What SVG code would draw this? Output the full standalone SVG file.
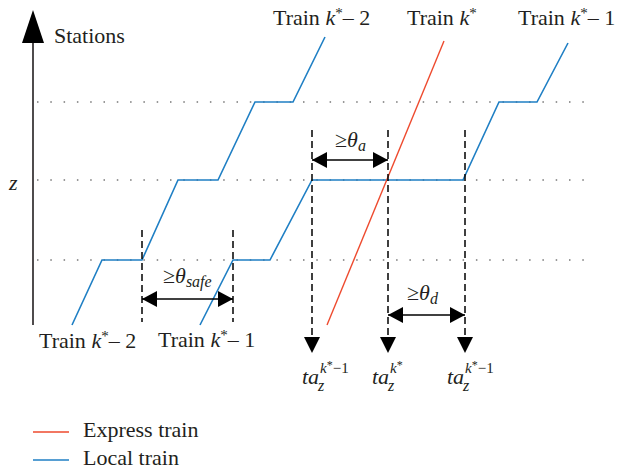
<svg xmlns="http://www.w3.org/2000/svg" width="619" height="470" viewBox="0 0 619 470">
<style>
.t{font-family:"Liberation Serif","Times New Roman",serif;font-size:22px;fill:#231f20}
.i{font-style:italic}
.blue{fill:none;stroke:#1f7fc4;stroke-width:1.6}
.red{fill:none;stroke:#ee4a2e;stroke-width:1.4}
.dot{fill:none;stroke:#777;stroke-width:1.5;stroke-dasharray:1.5 11.8}
.dash{fill:none;stroke:#000;stroke-width:1.5;stroke-dasharray:7 4}
.dbl{fill:none;stroke:#000;stroke-width:1.6;marker-start:url(#ah);marker-end:url(#ah)}
</style>
<defs>
<marker id="ah" viewBox="0 0 15 16" markerWidth="15" markerHeight="16" refX="15" refY="8" orient="auto-start-reverse" markerUnits="userSpaceOnUse"><path d="M0,0 L15,8 L0,16 Z" fill="#000"/></marker>
</defs>
<rect width="619" height="470" fill="#fff"/>
<g id="axis">
<line x1="33" y1="325" x2="33" y2="40" stroke="#231f20" stroke-width="1.6"/>
<path d="M22,43 L44,43 L33,10 Z" fill="#000"/>
<text class="t" x="54" y="43">Stations</text>
<text class="t i" x="9" y="190">z</text>
</g>
<g id="grid">
<line class="dot" x1="37" y1="102" x2="592" y2="102"/>
<line class="dot" x1="37" y1="180" x2="592" y2="180"/>
<line class="dot" x1="37" y1="260" x2="592" y2="260"/>
</g>
<g id="trains">
<g id="train-k2"><polyline class="blue" points="72,325 102,260 142,260 178,180 218,180 255,102 293,102 325,37"/></g>
<g id="train-k1"><polyline class="blue" points="200,325 233,260 270,260 312,180 463,180 499,102 537,102 568,43"/></g>
<g id="train-k"><line class="red" x1="327" y1="325" x2="444" y2="41"/></g>
</g>
<g id="connectors">
<line class="dash" x1="142" y1="230" x2="142" y2="322"/>
<line class="dash" x1="233" y1="230" x2="233" y2="322"/>
<line class="dash" x1="312" y1="130" x2="312" y2="340"/>
<line class="dash" x1="388" y1="130" x2="388" y2="340"/>
<line class="dash" x1="465" y1="130" x2="465" y2="340"/>
<path d="M304,337 L320,337 L312,353 Z" fill="#000"/>
<path d="M380,337 L396,337 L388,353 Z" fill="#000"/>
<path d="M457,337 L473,337 L465,353 Z" fill="#000"/>
<line class="dbl" x1="312" y1="160" x2="388" y2="160"/>
<line class="dbl" x1="142" y1="299" x2="233" y2="299"/>
<line class="dbl" x1="388" y1="315" x2="465" y2="315"/>
</g>
<g id="labels">
<text class="t" x="335" y="147">≥<tspan class="i">θ</tspan><tspan class="i" font-size="16" dy="4">a</tspan></text>
<text class="t" x="163" y="283">≥<tspan class="i">θ</tspan><tspan class="i" font-size="16" dy="4">safe</tspan></text>
<text class="t" x="407" y="300">≥<tspan class="i">θ</tspan><tspan class="i" font-size="16" dy="4">d</tspan></text>
<text class="t" x="273" y="25">Train <tspan class="i">k</tspan><tspan font-size="15" dy="-7">*</tspan><tspan dy="7">– 2</tspan></text>
<text class="t" x="407" y="25">Train <tspan class="i">k</tspan><tspan font-size="15" dy="-7">*</tspan></text>
<text class="t" x="518" y="25">Train <tspan class="i">k</tspan><tspan font-size="15" dy="-7">*</tspan><tspan dy="7">– 1</tspan></text>
<text class="t" x="39" y="348">Train <tspan class="i">k</tspan><tspan font-size="15" dy="-7">*</tspan><tspan dy="7">– 2</tspan></text>
<text class="t" x="158" y="347">Train <tspan class="i">k</tspan><tspan font-size="15" dy="-7">*</tspan><tspan dy="7">– 1</tspan></text>
<text class="t" x="302" y="384"><tspan class="i">ta</tspan><tspan class="i" font-size="15" x="320" dy="-11">k</tspan><tspan font-size="12" dy="-4">*</tspan><tspan font-size="15" dy="4">−1</tspan><tspan class="i" font-size="16" x="318" dy="18">z</tspan></text>
<text class="t" x="372" y="384"><tspan class="i">ta</tspan><tspan class="i" font-size="15" x="390" dy="-11">k</tspan><tspan font-size="12" dy="-4">*</tspan><tspan class="i" font-size="16" x="388" dy="22">z</tspan></text>
<text class="t" x="447" y="384"><tspan class="i">ta</tspan><tspan class="i" font-size="15" x="465" dy="-11">k</tspan><tspan font-size="12" dy="-4">*</tspan><tspan font-size="15" dy="4">−1</tspan><tspan class="i" font-size="16" x="463" dy="18">z</tspan></text>
</g>
<g id="legend">
<line x1="33" y1="432" x2="69" y2="432" stroke="#ee4a2e" stroke-width="1.4"/>
<line x1="33" y1="460" x2="69" y2="460" stroke="#1f7fc4" stroke-width="1.6"/>
<text class="t" x="83" y="437">Express train</text>
<text class="t" x="83" y="465">Local train</text>
</g>
</svg>
